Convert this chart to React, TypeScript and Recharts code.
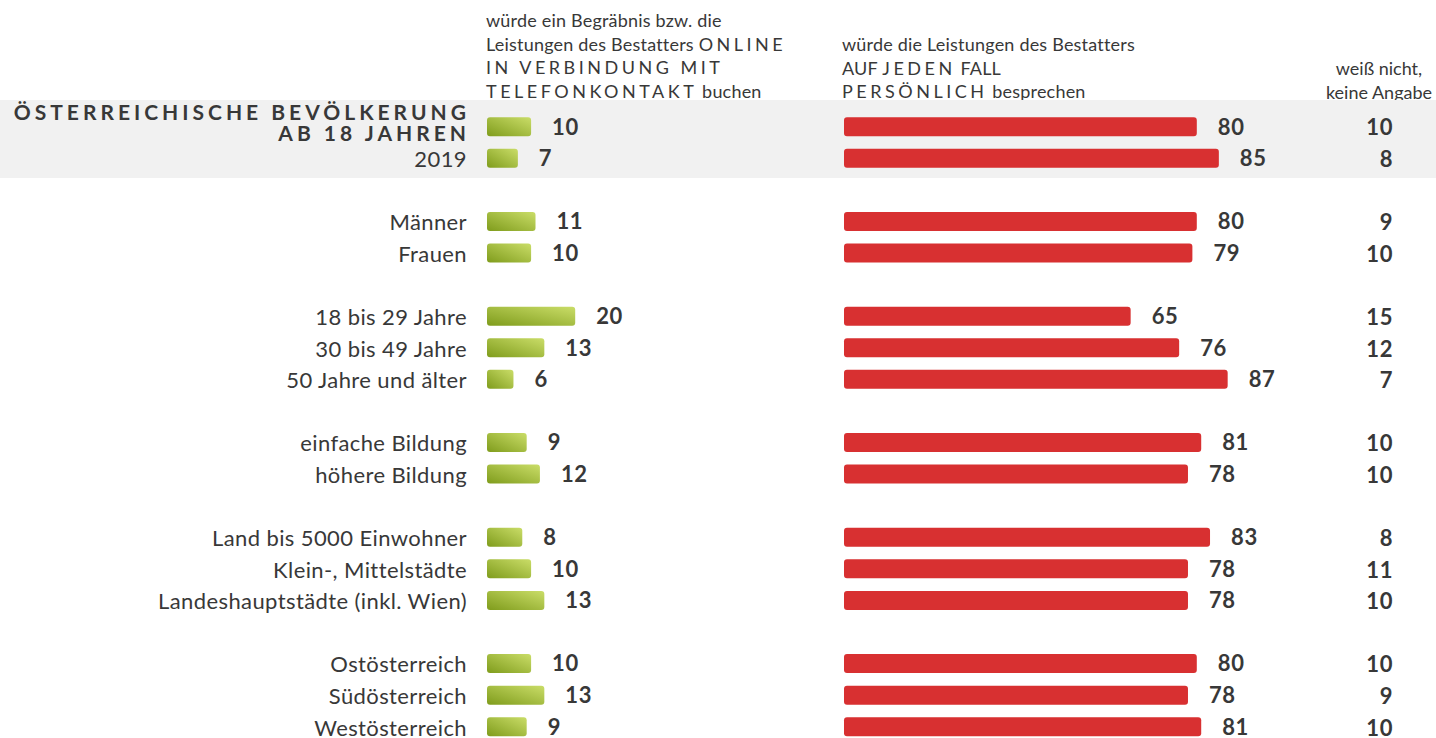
import React from "react";
import { BarChart, Bar, XAxis, YAxis, LabelList } from "recharts";

// rows of the chart; empty strings are the spacer rows between groups
const categories = [
  "ÖSTERREICHISCHE BEVÖLKERUNG\nAB 18 JAHREN",
  "2019",
  "",
  "Männer",
  "Frauen",
  "",
  "18 bis 29 Jahre",
  "30 bis 49 Jahre",
  "50 Jahre und älter",
  "",
  "einfache Bildung",
  "höhere Bildung",
  "",
  "Land bis 5000 Einwohner",
  "Klein-, Mittelstädte",
  "Landeshauptstädte (inkl. Wien)",
  "",
  "Ostösterreich",
  "Südösterreich",
  "Westösterreich",
];

const online = [10, 7, null, 11, 10, null, 20, 13, 6, null, 9, 12, null, 8, 10, 13, null, 10, 13, 9];
const persoenlich = [80, 85, null, 80, 79, null, 65, 76, 87, null, 81, 78, null, 83, 78, 78, null, 80, 78, 81];
const weissNicht = [10, 8, null, 9, 10, null, 15, 12, 7, null, 10, 10, null, 8, 11, 10, null, 10, 9, 10];

const rows = categories.map((label, i) => ({
  id: String(i),
  label,
  online: online[i],
  persoenlich: persoenlich[i],
  weissNicht: weissNicht[i],
}));

const W = 1436;
const H = 745;
const LEFT_AXIS = 487;
const RIGHT_AXIS = 43;
const PLOT_W = W - LEFT_AXIS - RIGHT_AXIS;
const PX_PER_UNIT = 4.41;
const RED_START = 357; // px from plot left where the red bars begin

const TEXT = "#383838";
const FONT = "Lato, 'Noto Sans', sans-serif";

const spaced: React.CSSProperties = { letterSpacing: 3.5 };

function LeftTick({ x, y, payload }: any) {
  const label = categories[Number(payload.value)] ?? "";
  if (!label) return null;
  if (label.includes("\n")) {
    const [a, b] = label.split("\n");
    return (
      <text x={x + 3} textAnchor="end" fill={TEXT} fontFamily={FONT} fontWeight={700} fontSize={21} letterSpacing={4}>
        <tspan x={x + 3} y={y - 15} dominantBaseline="central">{a}</tspan>
        <tspan x={x + 3} y={y + 6} dominantBaseline="central">{b}</tspan>
      </text>
    );
  }
  return (
    <text x={x} y={y} textAnchor="end" dominantBaseline="central" fill={TEXT} fontFamily={FONT} fontSize={22} letterSpacing={0.4}>
      {label}
    </text>
  );
}

function RightTick({ x, y, payload }: any) {
  const v = weissNicht[Number(payload.value)];
  if (v == null) return null;
  return (
    <text x={x} y={y} textAnchor="end" dominantBaseline="central" fill={TEXT} fontFamily={FONT} fontWeight={700} fontSize={22} letterSpacing={0.6}>
      {v}
    </text>
  );
}

const fmt = (v: any) => (v == null ? "" : String(v));

export default function App() {
  return (
    <div style={{ position: "absolute", left: 0, top: 0, width: W, height: 738, overflow: "hidden", fontFamily: FONT, color: TEXT, background: "#fff" }}>
      <div style={{ position: "absolute", left: 486, top: 9, fontSize: 18, lineHeight: "23.5px", whiteSpace: "nowrap", letterSpacing: 0.2 }}>
        würde ein Begräbnis bzw. die
        <br />
        Leistungen des Bestatters <span style={spaced}>ONLINE</span>
        <br />
        <span style={spaced}>IN VERBINDUNG MIT</span>
        <br />
        <span style={spaced}>TELEFONKONTAKT</span> buchen
      </div>
      <div style={{ position: "absolute", left: 842, top: 33, fontSize: 18, lineHeight: "23.5px", whiteSpace: "nowrap", letterSpacing: 0.2 }}>
        würde die Leistungen des Bestatters
        <br />
        AUF <span style={spaced}>JEDEN</span> FALL
        <br />
        <span style={spaced}>PERSÖNLICH</span> besprechen
      </div>
      <div style={{ position: "absolute", left: 1316, top: 57, width: 126, textAlign: "center", fontSize: 18, lineHeight: "23.5px", whiteSpace: "nowrap" }}>
        weiß nicht,
        <br />
        keine Angabe
      </div>
      <div style={{ position: "absolute", left: 0, top: 100, width: W, height: 78, background: "#f1f1f1" }} />
      <div style={{ position: "absolute", left: 0, top: 0 }}>
        <BarChart
          width={W}
          height={H}
          data={rows}
          layout="vertical"
          margin={{ top: 111.2, right: 0, bottom: H - 111.2 - 20 * 31.58, left: 0 }}
        >
          <defs>
            <linearGradient id="greenGrad" x1="0" y1="1" x2="1" y2="0">
              <stop offset="0%" stopColor="#7f9c1c" />
              <stop offset="100%" stopColor="#cadd68" />
            </linearGradient>
          </defs>
          <XAxis xAxisId="g" type="number" hide domain={[0, PLOT_W / PX_PER_UNIT]} allowDataOverflow />
          <XAxis
            xAxisId="p"
            type="number"
            hide
            domain={[-RED_START / PX_PER_UNIT, (PLOT_W - RED_START) / PX_PER_UNIT]}
            allowDataOverflow
          />
          <YAxis
            yAxisId="l"
            type="category"
            dataKey="id"
            width={LEFT_AXIS}
            axisLine={false}
            tickLine={false}
            tickSize={0}
            tickMargin={20}
            interval={0}
            tick={<LeftTick />}
          />
          <YAxis
            yAxisId="r"
            orientation="right"
            type="category"
            dataKey="id"
            width={RIGHT_AXIS}
            axisLine={false}
            tickLine={false}
            tickSize={0}
            tickMargin={0}
            interval={0}
            tick={<RightTick />}
          />
          <Bar dataKey="online" xAxisId="g" yAxisId="l" barSize={19} fill="url(#greenGrad)" radius={3} isAnimationActive={false}>
            <LabelList dataKey="online" position="right" offset={21} formatter={fmt} fill={TEXT} fontFamily={FONT} fontWeight={700} fontSize={22} letterSpacing={0.6} />
          </Bar>
          <Bar dataKey="persoenlich" xAxisId="p" yAxisId="r" barSize={19} fill="#d83031" radius={3} isAnimationActive={false}>
            <LabelList dataKey="persoenlich" position="right" offset={21} formatter={fmt} fill={TEXT} fontFamily={FONT} fontWeight={700} fontSize={22} letterSpacing={0.6} />
          </Bar>
        </BarChart>
      </div>
    </div>
  );
}
